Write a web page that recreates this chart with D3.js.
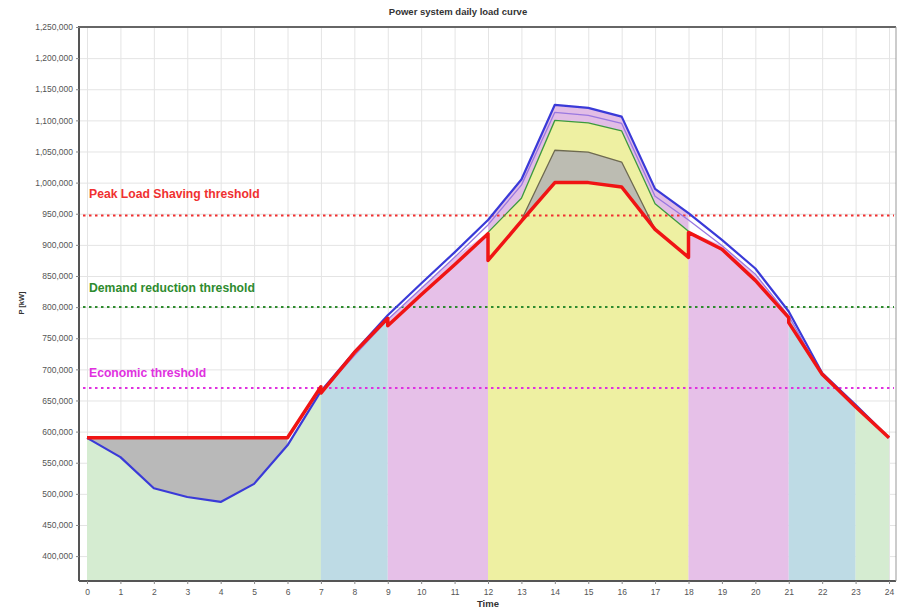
<!DOCTYPE html>
<html>
<head>
<meta charset="utf-8">
<title>Power system daily load curve</title>
<style>
  body { margin: 0; background: #fff; }
  svg text { font-family: Arial, "Liberation Sans", sans-serif; }
  .axis text { font-size: 8.5px; fill: #555; }
  .axis line { stroke: #888; }
  .axis .domain { stroke: #555; stroke-width: 2; }
  .grid line { stroke: #e4e4e4; }
  .grid .domain { display: none; }
</style>
</head>
<body>
<svg width="899" height="611"></svg>
<script src="https://d3js.org/d3.v7.min.js"></script>
<script>
  // hourly values, kW
  var hours = d3.range(0, 25);
  var baseLoad = [590000, 559000, 509000, 495000, 487000, 516000, 578000, 665000, 728000, 787000,
                  838000, 888000, 940000, 1005000, 1125000, 1120000, 1106000, 990000, 951000, 908000,
                  862000, 793000, 694000, 643000, 590000];
  // after economic measures (hours 7..23)
  var econHours = d3.range(7, 24);
  var econLoad = [662000, 722000, 780000, 830000, 880000, 932000, 996000, 1113000, 1108000, 1095000,
                  978000, 940000, 899000, 853000, 786000, 690000, 640000];
  // after demand reduction (hours 12..18)
  var demandHours = d3.range(12, 19);
  var demandLoad = [920000, 975000, 1100000, 1096000, 1083000, 966000, 922000];
  // before peak shaving (hours 13..17)
  var shaveHours = d3.range(13, 18);
  var shaveLoad = [940000, 1052000, 1049000, 1033000, 925000];
  // final load curve (jumps at zone borders)
  var finalTime = [0, 1, 2, 3, 4, 5, 6, 7, 7, 8, 9, 9, 10, 11, 12, 12, 13, 14, 15, 16, 17, 18, 18, 19, 20, 21, 21, 22, 23, 24];
  var finalLoad = [590000, 590000, 590000, 590000, 590000, 590000, 590000, 672000, 662000, 727000,
                   782000, 770000, 820000, 868000, 918000, 875000, 938000, 1000000, 1000000, 993000,
                   925000, 880000, 920000, 893000, 843000, 783000, 775000, 692000, 640000, 590000];

  // tariff zones
  var zoneStart = [0, 7, 9, 12, 18, 21, 23];
  var zoneEnd   = [7, 9, 12, 18, 21, 23, 24];
  var zoneColor = ["#d5ecd1", "#bedbe5", "#e6c0e8", "#eef0a2", "#e6c0e8", "#bedbe5", "#d5ecd1"];

  var thresholdNames  = ["Peak Load Shaving threshold", "Demand reduction threshold", "Economic threshold"];
  var thresholdValues = [947000, 800000, 670000];
  var thresholdColors = ["#f03030", "#2e8b2e", "#e030e0"];

  var yTicks = d3.range(400000, 1250001, 50000);

  var svg = d3.select("svg"),
      plotLeft = 79, plotRight = 896, plotTop = 27, plotBottom = 581;

  var x = d3.scaleLinear().domain([0, 24]).range([87, 889]);
  var y = d3.scaleLinear().domain([360000, 1250000]).range([plotBottom, plotTop]);

  // grid
  svg.append("g").attr("class", "grid")
      .attr("transform", "translate(0," + plotBottom + ")")
      .call(d3.axisBottom(x).tickValues(hours).tickSize(-(plotBottom - plotTop)).tickFormat(""));
  svg.append("g").attr("class", "grid")
      .attr("transform", "translate(" + plotLeft + ",0)")
      .call(d3.axisLeft(y).tickValues(yTicks).tickSize(-(plotRight - plotLeft)).tickFormat(""));

  function finalAt(h) { return finalLoad[finalTime.indexOf(h)]; }

  // top of the zone colouring: load in valley, then reduced curves
  var bandTop = hours.map(function(h, i) {
    if (h < 7) return baseLoad[i];
    if (h >= 12 && h <= 18) return demandLoad[h - 12];
    if (h <= 23) return econLoad[h - 7];
    return finalAt(h);
  });

  var defs = svg.append("defs");
  var bandArea = d3.area()
      .x(function(d, i) { return x(hours[i]); })
      .y0(y(360000))
      .y1(function(d) { return y(d); });

  zoneStart.forEach(function(s, i) {
    defs.append("clipPath").attr("id", "zone" + i)
      .append("rect")
        .attr("x", x(s)).attr("y", plotTop)
        .attr("width", x(zoneEnd[i]) - x(s))
        .attr("height", plotBottom - plotTop);
    svg.append("path")
        .datum(bandTop)
        .attr("clip-path", "url(#zone" + i + ")")
        .attr("fill", zoneColor[i])
        .attr("d", bandArea);
  });

  // valley filling (between load and final curve)
  var valleyHours = d3.range(0, 7);
  svg.append("path")
      .datum(valleyHours)
      .attr("fill", "#b9b9b9")
      .attr("d", d3.area()
        .x(function(h) { return x(h); })
        .y0(function(h) { return y(baseLoad[h]); })
        .y1(function(h) { return y(finalAt(h)); }));

  // peak: between load and demand reduction
  svg.append("path")
      .datum(demandHours)
      .attr("fill", "#e2bde6")
      .attr("d", d3.area()
        .x(function(h) { return x(h); })
        .y0(function(h, i) { return y(demandLoad[i]); })
        .y1(function(h) { return y(baseLoad[h]); }));

  // peak shaving (between shaving curve and final)
  svg.append("path")
      .datum(shaveHours)
      .attr("fill", "#bcbcb2")
      .attr("d", d3.area()
        .x(function(h) { return x(h); })
        .y0(function(h) { return y(finalAt(h)); })
        .y1(function(h, i) { return y(shaveLoad[i]); }));

  // thresholds
  thresholdValues.forEach(function(v, i) {
    svg.append("line")
        .attr("x1", plotLeft + 4).attr("x2", plotRight - 2)
        .attr("y1", y(v)).attr("y2", y(v))
        .attr("stroke", thresholdColors[i])
        .attr("stroke-width", 2)
        .attr("stroke-dasharray", "2.5,3.5");
  });

  // curves
  function drawLine(xs, vs, color, w) {
    svg.append("path")
        .datum(vs)
        .attr("fill", "none")
        .attr("stroke", color)
        .attr("stroke-width", w)
        .attr("stroke-linejoin", "round")
        .attr("d", d3.line()
          .x(function(d, i) { return x(xs[i]); })
          .y(function(d) { return y(d); }));
  }
  drawLine(hours, baseLoad, "#3a3ad8", 2.2);
  drawLine(econHours, econLoad, "#9a78e0", 1.3);
  drawLine(demandHours, demandLoad, "#3c9a3c", 1.3);
  drawLine(shaveHours, shaveLoad, "#6e6a50", 1.3);
  drawLine(finalTime, finalLoad, "#f01414", 3.5);

  // axes
  svg.append("g").attr("class", "axis")
      .attr("transform", "translate(" + plotLeft + ",0)")
      .call(d3.axisLeft(y).tickValues(yTicks).tickSize(3).tickPadding(3).tickFormat(d3.format(",")))
      .select(".domain").attr("d", "M0," + (plotTop - 1) + "V" + plotBottom);
  svg.append("g").attr("class", "axis")
      .attr("transform", "translate(0," + plotBottom + ")")
      .call(d3.axisBottom(x).tickValues(hours).tickSize(3).tickPadding(5))
      .select(".domain").attr("d", "M" + plotLeft + ",0H" + plotRight);

  svg.append("line")
      .attr("x1", plotLeft).attr("x2", plotRight).attr("y1", plotTop).attr("y2", plotTop)
      .attr("stroke", "#666").attr("stroke-width", 2);
  svg.append("line")
      .attr("x1", plotRight).attr("x2", plotRight).attr("y1", plotTop).attr("y2", plotBottom)
      .attr("stroke", "#999").attr("stroke-width", 1);

  // threshold labels
  var labelLift = [22, 19, 15];
  thresholdNames.forEach(function(t, i) {
    svg.append("text")
        .attr("x", 89)
        .attr("y", y(thresholdValues[i]) - labelLift[i])
        .attr("dy", "0.35em")
        .attr("fill", thresholdColors[i])
        .attr("font-size", "12.2px")
        .attr("font-weight", "bold")
        .text(t);
  });

  svg.append("text")
      .attr("x", 458).attr("y", 15)
      .attr("text-anchor", "middle")
      .attr("font-size", "9.5px")
      .attr("font-weight", "bold")
      .attr("fill", "#333")
      .text("Power system daily load curve");

  svg.append("text")
      .attr("x", 488).attr("y", 607)
      .attr("text-anchor", "middle")
      .attr("font-size", "9.5px")
      .attr("font-weight", "bold")
      .attr("fill", "#333")
      .text("Time");

  svg.append("text")
      .attr("transform", "translate(24,303) rotate(-90)")
      .attr("text-anchor", "middle")
      .attr("font-size", "7.5px")
      .attr("font-weight", "bold")
      .attr("fill", "#333")
      .text("P [kW]");
</script>
</body>
</html>
